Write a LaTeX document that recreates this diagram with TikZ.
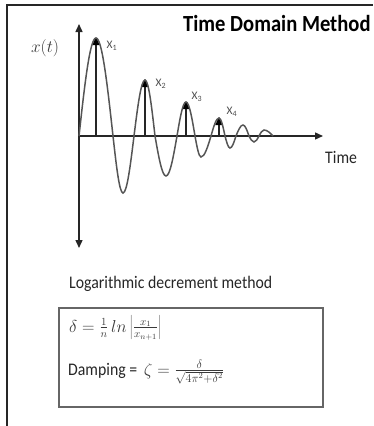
\documentclass[tikz,border=0pt]{standalone}
\usepackage{graphicx}
\usepackage{fontspec}
\setmainfont{Carlito}
\usetikzlibrary{arrows.meta}
\definecolor{ink}{HTML}{262626}
\definecolor{wavegray}{HTML}{555555}
\definecolor{mathgray}{HTML}{3A3A3A}
\definecolor{boxgray}{HTML}{666666}
\newcommand\vstretch[1]{\scalebox{1}[1.12]{#1}}
\begin{document}
\begin{tikzpicture}[x=1pt,y=-1pt,
  frameline/.style={line width=2pt,draw=black!85},
  axisline/.style={line width=1.4pt,draw=ink,-{Triangle[length=8pt,width=7pt]}},
  waveline/.style={line width=1.5pt,draw=wavegray},
  peakline/.style={line width=1.2pt,draw=ink},
  peakmark/.style={fill=black},
  xlabel/.style={inner sep=0pt,text=black!70,font=\fontsize{11.5}{12}\selectfont},
  plaintext/.style={inner sep=0pt,text=ink,font=\fontsize{15.8}{18}\selectfont},
  mathtext/.style={inner sep=0pt,text=mathgray,font=\fontsize{16}{19}\selectfont},
  formulabox/.style={line width=1.5pt,draw=boxgray}
]
\useasboundingbox (0,0) rectangle (373,426);
% frame
\coordinate (fbl) at (7,426);
\coordinate (ftl) at (7,5);
\coordinate (ftr) at (373,5);
\draw[frameline] (fbl) -- (ftl) -- (ftr);
% title
\node[inner sep=0pt,anchor=base west,font=\bfseries\fontsize{20.6}{24}\selectfont] (title) at (183,31) {\vstretch{Time Domain Method}};
% axes
\coordinate (O) at (79,136);
\coordinate (ytop) at (79,24);
\coordinate (ybot) at (79,248);
\coordinate (xend) at (323,136);
\draw[axisline] (O) -- (ytop);
\draw[axisline] (O) -- (ybot);
\draw[axisline] (O) -- (xend);
\node[mathtext,anchor=center] (xt) at (45,48) {$x(t)$};
\node[plaintext,anchor=base west] (time) at (325,163) {\vstretch{Time}};
% peak lines and markers
\foreach \px/\py/\nm in {96/38/p1,145/80/p2,186/102/p3,219/118/p4}{
  \coordinate (\nm) at (\px,\py);
  \coordinate (\nm b) at (\px,136);
  \draw[peakline] (\nm b) -- (\nm);
  \fill[peakmark] (\px,\py-1) -- (\px-3.8,\py+7) -- (\px+3.8,\py+7) -- cycle;
}
% waveform
\draw[waveline] (O) sin (96,38) cos (113,136) sin (123,193) cos (134,136)
  sin (145,80) cos (155,136) sin (166,176) cos (177,136)
  sin (186,102) cos (195,136) sin (201,157) cos (211,136)
  sin (219,118) cos (225,136) sin (230,148) cos (236,136)
  sin (243,125) cos (249,136) sin (254,142) cos (259,136)
  sin (264,130) cos (273,136);
% peak labels
\node[xlabel] (X1) at (112,46) {X\textsubscript{1}};
\node[xlabel] (X2) at (161,84) {X\textsubscript{2}};
\node[xlabel] (X3) at (197,97) {X\textsubscript{3}};
\node[xlabel] (X4) at (232,112) {X\textsubscript{4}};
% method
\node[plaintext,anchor=base west] (method) at (69,288) {\vstretch{Logarithmic decrement method}};
\coordinate (b1) at (59,308);
\coordinate (b2) at (323,407);
\draw[formulabox] (b1) rectangle (b2);
\node[mathtext,anchor=base west] (f1) at (69,332)
  {$\delta=\frac{1}{n}\,ln\left|\frac{x_1}{x_{n+1}}\right|$};
\node[plaintext,anchor=base west] (f2) at (68,375)
  {\vstretch{Damping =}\hspace{3pt} \textcolor{mathgray}{\fontsize{16.5}{19}\selectfont$\zeta=\frac{\delta}{\sqrt{4\pi^2+\delta^2}}$}};
\end{tikzpicture}
\end{document}
